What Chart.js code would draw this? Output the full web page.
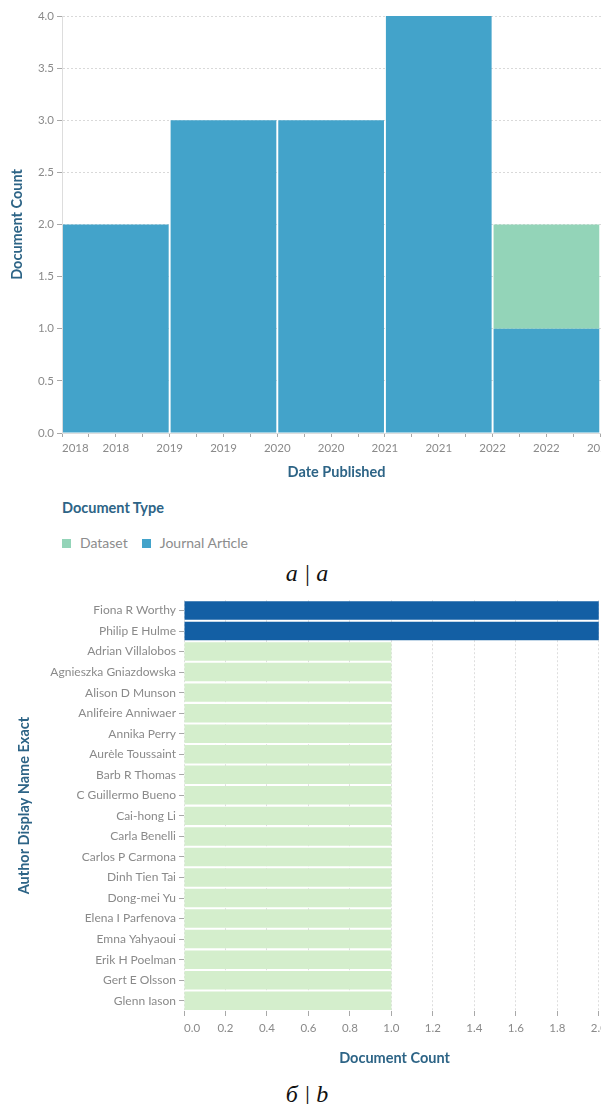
<!DOCTYPE html>
<html><head><meta charset="utf-8">
<script src="https://cdn.jsdelivr.net/npm/chart.js@4.4.1/dist/chart.umd.min.js"></script>
<style>
html,body{margin:0;padding:0;background:#fff;}
#wrap{position:relative;width:601px;height:1104px;overflow:hidden;background:#fff;}
canvas{position:absolute;left:0;}
#topc{top:0;}
#botc{top:590px;}
#legtitle{position:absolute;left:62px;top:499px;font:bold 14.5px Lato,sans-serif;color:#2d6486;line-height:18px;white-space:nowrap;}
#legend{position:absolute;left:62px;top:534px;font:14px Lato,sans-serif;color:#8c8c8c;line-height:18px;white-space:nowrap;display:flex;}
#legend .it{display:flex;align-items:center;margin-right:14px;}
#legend .sw{width:9px;height:9px;margin-right:9px;}
.cap{position:absolute;left:0;width:614px;text-align:center;font:italic 24px "Liberation Serif",serif;color:#111;line-height:28px;white-space:nowrap;}
</style></head>
<body><div id="wrap">
<canvas id="topc" width="640" height="490"></canvas>
<div id="legtitle">Document Type</div>
<div id="legend"></div>
<div class="cap" style="top:559px;">а | a</div>
<canvas id="botc" width="640" height="480"></canvas>
<div class="cap" style="top:1080px;">б | b</div>
</div>
<script>
// ---------- data: chart a ----------
const yearBins = [2018, 2019, 2020, 2021, 2022];
const journalArticle = [2, 3, 3, 4, 1];
const datasetDocs = [0, 0, 0, 0, 1];
const dateTickValues = [2018, 2018.25, 2018.5, 2018.75, 2019, 2019.25, 2019.5, 2019.75,
  2020, 2020.25, 2020.5, 2020.75, 2021, 2021.25, 2021.5, 2021.75,
  2022, 2022.25, 2022.5, 2022.75, 2023];
const countTicksA = [0, 0.5, 1, 1.5, 2, 2.5, 3, 3.5, 4];

// ---------- data: chart b ----------
const authors = ["Fiona R Worthy", "Philip E Hulme", "Adrian Villalobos", "Agnieszka Gniazdowska",
  "Alison D Munson", "Anlifeire Anniwaer", "Annika Perry", "Aurèle Toussaint", "Barb R Thomas",
  "C Guillermo Bueno", "Cai-hong Li", "Carla Benelli", "Carlos P Carmona", "Dinh Tien Tai",
  "Dong-mei Yu", "Elena I Parfenova", "Emna Yahyaoui", "Erik H Poelman", "Gert E Olsson", "Glenn Iason"];
const authorCounts = [2, 2, 1, 1, 1, 1, 1, 1, 1, 1, 1, 1, 1, 1, 1, 1, 1, 1, 1, 1];
const countTicksB = [0, 0.2, 0.4, 0.6, 0.8, 1.0, 1.2, 1.4, 1.6, 1.8, 2.0];

const C_JOURNAL = '#43a3ca', C_DATASET = '#93d4b8';
const C_HIGH = '#135fa4', C_LOW = '#d4eecc';
const TITLE_COLOR = '#2d6486', TICK_COLOR = '#8a8a8a';

Chart.defaults.font.family = 'Lato, sans-serif';
Chart.defaults.color = TICK_COLOR;
Chart.defaults.animation = false;

const titleFont = {family: 'Lato, sans-serif', size: 14.5, weight: 'bold'};
const tickFont = {family: 'Lato, sans-serif', size: 11.5};

// ---------- chart a ----------
const topChart = new Chart(document.getElementById('topc'), {
  type: 'bar',
  data: {
    datasets: [
      {label: 'Journal Article', data: yearBins.map((y, i) => ({x: y + 0.5, y: journalArticle[i]})),
       backgroundColor: C_JOURNAL, xAxisID: 'xb', yAxisID: 'y', barPercentage: 0.982, categoryPercentage: 1},
      {label: 'Dataset', data: yearBins.map((y, i) => ({x: y + 0.5, y: datasetDocs[i]})),
       backgroundColor: C_DATASET, xAxisID: 'xb', yAxisID: 'y', barPercentage: 0.982, categoryPercentage: 1}
    ]
  },
  options: {
    responsive: false,
    layout: {padding: {top: 16, right: 29, left: 0, bottom: 0}},
    plugins: {legend: {display: false}, tooltip: {enabled: false}},
    scales: {
      xb: {type: 'linear', axis: 'x', display: false, stacked: true, min: 2018, max: 2023.1,
           offset: false, grid: {offset: false}, ticks: {stepSize: 1}},
      xv: {type: 'linear', axis: 'x', position: 'bottom', min: 2018, max: 2023.1, offset: false,
           afterBuildTicks: s => { s.ticks = dateTickValues.map(v => ({value: v})).concat([{value: 2023.1}]); },
           afterFit: s => { s.height = 57; },
           grid: {offset: false, drawOnChartArea: false, drawTicks: true, tickLength: 4, tickColor: '#a8a8a8'},
           border: {color: '#dddddd'},
           ticks: {autoSkip: false, maxRotation: 0, align: 'inner', padding: 4, font: tickFont, color: TICK_COLOR,
                   callback: v => (v > 2023 ? '' : (Math.abs(v * 2 - Math.round(v * 2)) < 1e-9 ? String(Math.floor(v)) : ''))},
           title: {display: true, text: 'Date Published', color: TITLE_COLOR, font: titleFont, padding: {top: 0, bottom: 9}}},
      y: {type: 'linear', stacked: true, min: 0, max: 4,
          afterBuildTicks: s => { s.ticks = countTicksA.map(v => ({value: v})); },
          afterFit: s => { s.width = 62; },
          grid: {color: '#d9d9d9', drawTicks: true, tickLength: 5, tickColor: '#a8a8a8', tickBorderDash: []},
          border: {color: '#dddddd', dash: [2, 2]},
          ticks: {padding: 3, font: tickFont, color: TICK_COLOR, callback: v => v.toFixed(1)},
          title: {display: true, text: 'Document Count', color: TITLE_COLOR, font: titleFont, padding: {top: 9, bottom: 0}}}
    }
  }
});

// html legend built from the datasets (alphabetical like the original)
const leg = document.getElementById('legend');
topChart.data.datasets.slice().sort((a, b) => a.label.localeCompare(b.label)).forEach(ds => {
  const it = document.createElement('div'); it.className = 'it';
  const sw = document.createElement('span'); sw.className = 'sw'; sw.style.background = ds.backgroundColor;
  const tx = document.createElement('span'); tx.textContent = ds.label;
  it.appendChild(sw); it.appendChild(tx); leg.appendChild(it);
});

// ---------- chart b ----------
new Chart(document.getElementById('botc'), {
  type: 'bar',
  data: {
    labels: authors,
    datasets: [{label: 'Document Count', data: authorCounts,
      backgroundColor: c => (c.raw >= 2 ? C_HIGH : C_LOW), barPercentage: 0.9, categoryPercentage: 1}]
  },
  options: {
    indexAxis: 'y',
    responsive: false,
    layout: {padding: {top: 10, right: 35, left: 0, bottom: 0}},
    plugins: {legend: {display: false}, tooltip: {enabled: false}},
    scales: {
      x: {type: 'linear', min: 0, max: 2.03,
          afterBuildTicks: s => { s.ticks = countTicksB.map(v => ({value: v})).concat([{value: 2.03}]); },
          afterFit: s => { s.height = 59; },
          grid: {color: '#dedede', drawTicks: true, tickLength: 5, tickColor: '#a8a8a8', tickBorderDash: []},
          border: {display: false, dash: [2, 2]},
          ticks: {autoSkip: false, maxRotation: 0, align: 'inner', padding: 5, font: tickFont, color: TICK_COLOR,
                  callback: v => (v > 2.001 ? '' : v.toFixed(1))},
          title: {display: true, text: 'Document Count', color: TITLE_COLOR, font: titleFont, padding: {top: 0, bottom: 3}}},
      y: {type: 'category', offset: true,
          afterFit: s => { s.width = 184; },
          grid: {offset: false, drawOnChartArea: false, drawTicks: true, tickLength: 5, tickColor: '#a8a8a8'},
          border: {display: false},
          ticks: {autoSkip: false, padding: 3, font: {family: 'Lato, sans-serif', size: 12}, color: TICK_COLOR},
          title: {display: true, text: 'Author Display Name Exact', color: TITLE_COLOR, font: titleFont, padding: {top: 16, bottom: 0}}}
    }
  }
});
</script>
</body></html>
